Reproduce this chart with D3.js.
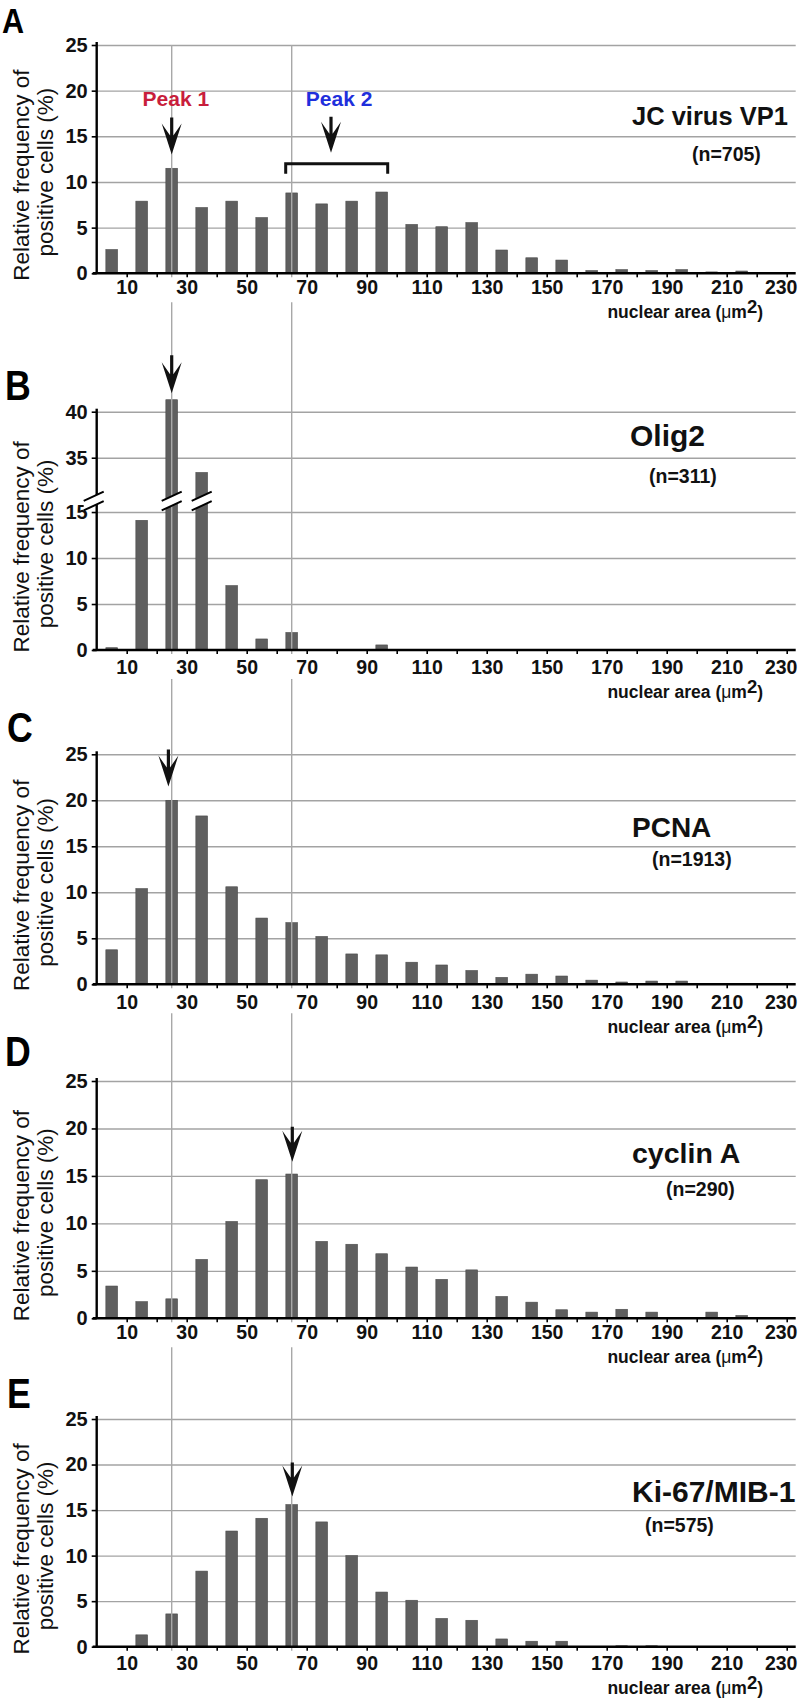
<!DOCTYPE html>
<html><head><meta charset="utf-8">
<script src="https://cdn.jsdelivr.net/npm/d3@7"></script>
<style>
body{margin:0;background:#fff}
svg text{font-family:"Liberation Sans",Arial,Helvetica,sans-serif}
</style></head><body>
<svg id="chart" width="800" height="1699"></svg>
<script>
// ---------- data ----------
const binCenters = [5,15,25,35,45,55,65,75,85,95,105,115,125,135,145,155,165,175,185,195,205,215,225];
const xTickValues = [10,20,30,40,50,60,70,80,90,100,110,120,130,140,150,160,170,180,190,200,210,220,230];
const xTickLabels = [10,30,50,70,90,110,130,150,170,190,210,230];
const yTicksStd = [0,5,10,15,20,25];
const yTicksOlig = [0,5,10,15,35,40];
const refLines = [25,65];

const jcVP1  = [2.6,7.9,11.5,7.2,7.9,6.1,8.8,7.6,7.9,8.9,5.35,5.1,5.55,2.55,1.7,1.45,0.3,0.4,0.3,0.4,0.15,0.25,0];
const olig2  = [0.25,14.1,41.3,33.4,7.0,1.2,1.9,0,0,0.55,0,0,0,0,0,0,0,0,0,0,0,0,0];
const pcna   = [3.75,10.4,20.0,18.3,10.6,7.2,6.7,5.2,3.3,3.2,2.4,2.1,1.5,0.75,1.1,0.9,0.45,0.25,0.35,0.35,0,0,0];
const cyclinA= [3.4,1.75,2.05,6.2,10.2,14.6,15.2,8.1,7.8,6.8,5.4,4.1,5.1,2.3,1.7,0.9,0.65,0.95,0.65,0,0.65,0.3,0];
const ki67   = [0,1.3,3.6,8.3,12.7,14.1,15.6,13.7,10.0,6.0,5.1,3.1,2.9,0.85,0.6,0.6,0,0.1,0.1,0,0,0,0];

const panelLetters = ["A","B","C","D","E"];
const panelTitles = ["JC virus VP1","Olig2","PCNA","cyclin A","Ki-67/MIB-1"];
const panelNs = ["(n=705)","(n=311)","(n=1913)","(n=290)","(n=575)"];
const panelValues = [jcVP1, olig2, pcna, cyclinA, ki67];
// broken axis of panel B: values between these two are skipped
const oligBreak = [16.2, 30.3];

// ---------- layout ----------
const svg = d3.select("#chart");
const x = d3.scaleLinear().domain([0,233]).range([96.7,795.7]);
const barW = x(3.9)-x(0);
const gridGray = "#a3a3a3";

const layouts = [
  {yDom:[0,25], yRng:[273.3,45], ticks:yTicksStd, labOff:14, letter:[2,33,36], title:[632,125,25.5], n:[692,160.7],
   arrows:[{x:25,tip:13.0,len:37},{x:78.1,tip:13.2,len:36}]},
  {yDom:[0,oligBreak[0],oligBreak[1],40], yRng:[650,501,501,411.7], ticks:yTicksOlig, labOff:17, letter:[5,400,42], title:[630,446,30], n:[649,483],
   arrows:[{x:25,tip:42.0,len:38}]},
  {yDom:[0,25], yRng:[984.3,754.3], ticks:yTicksStd, labOff:18, letter:[7,742,42], title:[632,837,28], n:[652,866],
   arrows:[{x:23.9,tip:21.5,len:37}]},
  {yDom:[0,25], yRng:[1318.3,1081], ticks:yTicksStd, labOff:14, letter:[5,1066,42], title:[632,1163,28.5], n:[666,1196],
   arrows:[{x:65.2,tip:16.5,len:35}]},
  {yDom:[0,25], yRng:[1646.7,1419], ticks:yTicksStd, labOff:16, letter:[7,1408,42], title:[632,1501.7,30], n:[645,1532],
   arrows:[{x:65.2,tip:16.5,len:34}]}
];

const gGrid = svg.append("g"), gBars = svg.append("g"), gRef = svg.append("g"),
      gAxes = svg.append("g"), gAnn = svg.append("g");

const scales = [];
layouts.forEach((L,i)=>{
  const y = d3.scaleLinear().domain(L.yDom).range(L.yRng);
  scales.push(y);
  const y0 = y(0);
  const top = d3.min(L.yRng);

  // gridlines
  gGrid.append("g").attr("transform",`translate(${x(0)},0)`)
    .call(d3.axisLeft(y).tickValues(L.ticks.filter(t=>t>0)).tickSize(-(x(233)-x(0))).tickFormat(""))
    .call(g=>g.select(".domain").remove())
    .call(g=>g.selectAll("line").attr("stroke",gridGray).attr("stroke-width",1.4));

  // bars
  gBars.selectAll(null).data(panelValues[i].map((v,k)=>({c:binCenters[k],v}))).enter()
    .filter(d=>d.v>0)
    .append("rect")
    .attr("x",d=>x(d.c)-barW/2).attr("width",barW)
    .attr("y",d=>y(d.v)).attr("height",d=>y0-y(d.v))
    .attr("fill","#5f5f5f").attr("stroke","#4a4a4a").attr("stroke-width",0.6);

  // x axis
  const xa = gAxes.append("g").attr("transform",`translate(0,${y0})`)
    .call(d3.axisBottom(x).tickValues(xTickValues).tickSize(4).tickSizeOuter(0).tickPadding(L.labOff-11)
      .tickFormat(d=>xTickLabels.includes(d)?d:""));
  xa.select(".domain").attr("stroke","#000").attr("stroke-width",2.6).attr("d",`M${x(0)-4},0H${x(233)}`);
  xa.selectAll("line").attr("stroke","#000").attr("stroke-width",1.6);
  xa.selectAll("text").attr("font-size",19.5).attr("font-weight","bold").attr("fill","#111")
    .attr("dx",d=>d===230?-6:0);

  // y axis
  const ya = gAxes.append("g").attr("transform",`translate(${x(0)},0)`)
    .call(d3.axisLeft(y).tickValues(L.ticks).tickSize(5).tickSizeOuter(0).tickPadding(4));
  ya.select(".domain").attr("stroke","#000").attr("stroke-width",2.4).attr("d",`M0,${top-3}V${y0}`);
  ya.selectAll("line").attr("stroke","#000").attr("stroke-width",1.6);
  ya.selectAll("text").attr("font-size",20).attr("font-weight","bold").attr("fill","#111");

  // y title (two lines)
  const mid = (top+y0)/2;
  gAxes.append("text").attr("transform",`translate(29,${mid+16}) rotate(-90)`)
    .attr("text-anchor","middle").attr("font-size",22.5).attr("fill","#111").text("Relative frequency of");
  gAxes.append("text").attr("transform",`translate(53,${mid+13}) rotate(-90)`)
    .attr("text-anchor","middle").attr("font-size",22.5).attr("fill","#111").text("positive cells (%)");

  // x title
  const xt = gAxes.append("text").attr("x",763).attr("y",y0+L.labOff+31).attr("text-anchor","end")
    .attr("font-size",17.5).attr("font-weight","bold").attr("fill","#111");
  xt.append("tspan").text("nuclear area (");
  xt.append("tspan").attr("font-weight","normal").text("\u03bc");
  xt.append("tspan").text("m");
  xt.append("tspan").attr("dy",-5).attr("font-size",18.5).text("2");
  xt.append("tspan").attr("dy",5).text(")");

  // panel letter
  gAnn.append("text").attr("transform",`translate(${L.letter[0]},${L.letter[1]}) scale(0.85,1)`)
    .attr("font-size",L.letter[2]).attr("font-weight","bold").attr("fill","#000").text(panelLetters[i]);

  // title + n
  gAnn.append("text").attr("x",L.title[0]).attr("y",L.title[1]).attr("font-size",L.title[2])
    .attr("font-weight","bold").attr("fill","#111").text(panelTitles[i]);
  gAnn.append("text").attr("x",L.n[0]).attr("y",L.n[1]).attr("font-size",19.5)
    .attr("font-weight","bold").attr("fill","#111").text(panelNs[i]);

  // arrows
  L.arrows.forEach(a=>{
    const cx = x(a.x), tip = y(a.tip), st = tip - a.len, ht = tip - 31;
    gAnn.append("path")
      .attr("d",`M${cx-1.6},${st}L${cx+1.6},${st}L${cx+1.6},${ht+12}L${cx+10},${ht}L${cx},${tip}L${cx-10},${ht}L${cx-1.6},${ht+12}Z`)
      .attr("fill","#111");
  });
});

// reference vertical lines, interrupted by tick-label rows
const segs = layouts.map((L,i)=>{
  const start = i===0 ? d3.min(L.yRng) : scales[i-1](0)+29;
  return [start, scales[i](0)+4];
});
refLines.forEach(v=>{
  segs.forEach(s=>{
    gRef.append("line").attr("x1",x(v)).attr("x2",x(v)).attr("y1",s[0]).attr("y2",s[1])
      .attr("stroke","#a8a8a8").attr("stroke-width",1.4);
  });
});
gRef.raise(); gAxes.raise(); gAnn.raise();

// panel A annotations
{
  const y = scales[0];
  gAnn.append("text").attr("x",x(26.4)).attr("y",y(18.3)).attr("text-anchor","middle")
    .attr("font-size",21).attr("font-weight","bold").attr("fill","#c81e3c").text("Peak 1");
  gAnn.append("text").attr("x",x(80.8)).attr("y",y(18.3)).attr("text-anchor","middle")
    .attr("font-size",21).attr("font-weight","bold").attr("fill","#1f2fdc").text("Peak 2");
  const by = y(12.0);
  gAnn.append("path").attr("d",`M${x(63)},${by+10}V${by}H${x(97)}V${by+10}`)
    .attr("fill","none").attr("stroke","#111").attr("stroke-width",3);
}

// axis breaks in panel B
{
  const y = scales[1], cy = y(oligBreak[0]);
  const centers = [x(0)-3, x(25), x(35)];
  centers.forEach(cx=>{
    const h=4.75, s=4.7, w=10;
    gAnn.append("path")
      .attr("d",`M${cx-w},${cy-h+s}L${cx+w},${cy-h-s}L${cx+w},${cy+h-s}L${cx-w},${cy+h+s}Z`)
      .attr("fill","#fff");
    gAnn.append("path")
      .attr("d",`M${cx-w},${cy-h+s}L${cx+w},${cy-h-s}M${cx-w},${cy+h+s}L${cx+w},${cy+h-s}`)
      .attr("stroke","#000").attr("stroke-width",2).attr("fill","none");
  });
}
</script>
</body></html>
